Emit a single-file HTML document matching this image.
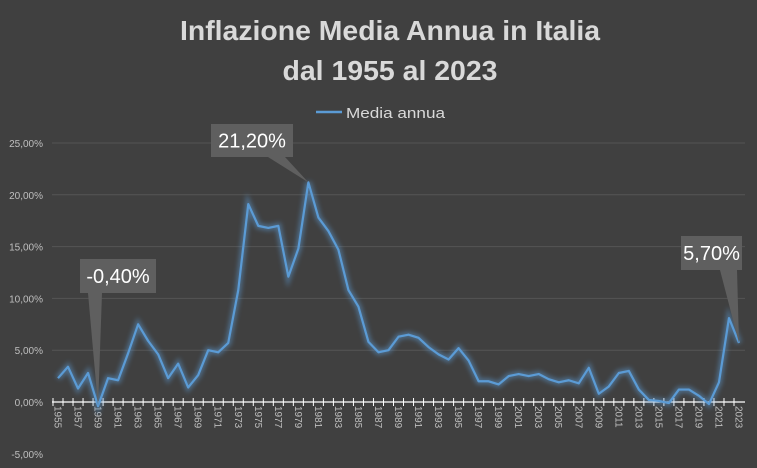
<!DOCTYPE html>
<html><head><meta charset="utf-8"><style>
html,body{margin:0;padding:0;background:#404040;}
svg{display:block;font-family:"Liberation Sans",sans-serif;}
</style></head><body>
<svg id="chart" width="757" height="468" viewBox="0 0 757 468" xmlns="http://www.w3.org/2000/svg">
<defs><filter id="glow" x="-10%" y="-10%" width="120%" height="120%"><feGaussianBlur stdDeviation="2.5"/></filter></defs>
<rect x="0" y="0" width="757" height="468" fill="#404040"/>
<text x="390" y="40" text-anchor="middle" font-size="28" font-weight="bold" fill="#d9d9d9" textLength="420" lengthAdjust="spacingAndGlyphs">Inflazione Media Annua in Italia</text>
<text x="390" y="80" text-anchor="middle" font-size="28" font-weight="bold" fill="#d9d9d9" textLength="215" lengthAdjust="spacingAndGlyphs">dal 1955 al 2023</text>
<g>
<line x1="316" y1="112" x2="342" y2="112" stroke="#5b9bd5" stroke-width="2.5"/>
<text x="346" y="118" font-size="15" fill="#d9d9d9" textLength="99" lengthAdjust="spacingAndGlyphs">Media annua</text>
</g>
<g id="grid"></g><g id="yaxis"></g><g id="xaxis"></g><g id="series"></g><g id="labels"></g>
</svg>
<script>
const years=[];for(let y=1955;y<=2023;y++)years.push(y);
const values=[2.3,3.4,1.3,2.8,-0.4,2.3,2.1,4.7,7.5,5.9,4.6,2.3,3.7,1.4,2.6,5.0,4.8,5.7,10.8,19.1,17.0,16.8,17.0,12.1,14.8,21.2,17.8,16.5,14.7,10.8,9.2,5.8,4.8,5.0,6.3,6.5,6.2,5.3,4.6,4.1,5.2,4.0,2.0,2.0,1.7,2.5,2.7,2.5,2.7,2.2,1.9,2.1,1.8,3.3,0.8,1.5,2.8,3.0,1.2,0.2,0.1,-0.1,1.2,1.2,0.6,-0.2,1.9,8.1,5.7];
const yTicks=[-5,0,5,10,15,20,25];
const yTickLabels=["-5,00%","0,00%","5,00%","10,00%","15,00%","20,00%","25,00%"];
const callouts=[{year:1959,text:"-0,40%"},{year:1980,text:"21,20%"},{year:2023,text:"5,70%"}];
const NS="http://www.w3.org/2000/svg";
const x=yr=>58+(yr-1955)*(739-58)/68;
const y=v=>402-v*(402-143)/25;
function mk(tag,attrs,parent){const e=document.createElementNS(NS,tag);for(const k in attrs)e.setAttribute(k,attrs[k]);parent.appendChild(e);return e;}
const grid=document.getElementById('grid'),ya=document.getElementById('yaxis'),xa=document.getElementById('xaxis'),se=document.getElementById('series'),lb=document.getElementById('labels');
yTicks.forEach((t,i)=>{
 if(t>0){const g=mk('line',{x1:52,x2:745,y1:y(t),y2:y(t),stroke:'#555555','stroke-width':1},grid);
 
 }
 const tx=mk('text',{x:43,y:y(t)+4,'text-anchor':'end','font-size':10,fill:'#bfbfbf'},ya);tx.textContent=yTickLabels[i];
 
 
});
const ax=mk('line',{x1:52,x2:745,y1:y(0),y2:y(0),stroke:'#ffffff','stroke-width':1.2},xa);


years.forEach((yr,i)=>{
 const px=x(yr)-5;
 mk('line',{x1:px,x2:px,y1:y(0)-4,y2:y(0)+4,stroke:'#ffffff','stroke-width':1},xa);
 if(i%2===0){const t=mk('text',{x:0,y:0,'font-size':10,fill:'#bfbfbf',transform:`translate(${x(yr)-3.5},406) rotate(90)`},xa);t.textContent=yr;
 
 }
});
const pts=years.map((yr,i)=>x(yr)+','+y(values[i])).join(' ');
mk('polyline',{points:pts,fill:'none',stroke:'#5b9bd5','stroke-width':6,'stroke-opacity':0.5,filter:'url(#glow)'},se);
const ln=mk('polyline',{points:pts,fill:'none',stroke:'#5b9bd5','stroke-width':2.2,'stroke-linejoin':'round'},se);


const boxes={1959:[80,259,76,34],1980:[211,124,82,33],2023:[681,236,61,34]};
callouts.forEach(c=>{
 const i=years.indexOf(c.year);const px=x(c.year),py=y(values[i]);
 const b=boxes[c.year];const [bx,by,bw,bh]=b;
 const g=mk('g',{},lb);
 
 
 let poly;
 if(c.year===1980) poly=`${bx+bw-25},${by+bh} ${bx+bw-8},${by+bh} ${px},${py}`;
 else if(c.year===1959) poly=`${bx+8},${by+bh} ${bx+22},${by+bh} ${px},${py}`;
 else poly=`${bx+bw-22},${by+bh} ${bx+bw-5},${by+bh} ${px},${py}`;
 mk('polygon',{points:poly,fill:'#5f5f5f'},g);
 mk('rect',{x:bx,y:by,width:bw,height:bh,fill:'#5f5f5f'},g);
 const t=mk('text',{x:bx+bw/2,y:by+bh/2+7,'text-anchor':'middle','font-size':20,fill:'#ffffff'},g);t.textContent=c.text;
});
</script>
</body></html>
